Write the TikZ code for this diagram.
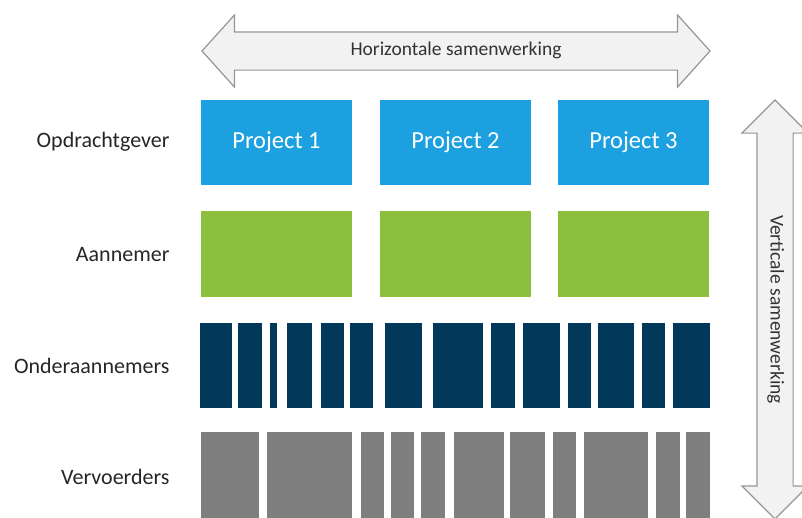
\documentclass[tikz,border=0pt]{standalone}
\usepackage{fontspec}
\setmainfont{Carlito}
\usetikzlibrary{shapes.arrows}
\definecolor{ProjBlue}{RGB}{28,160,224}
\definecolor{MainGreen}{RGB}{141,191,62}
\definecolor{SubNavy}{RGB}{2,56,90}
\definecolor{CarrierGrey}{RGB}{127,127,127}
\definecolor{ArrowFill}{RGB}{242,242,242}
\definecolor{ArrowLine}{RGB}{150,150,150}

\begin{document}
\begin{tikzpicture}[x=1pt,y=-1pt]
	\tikzstyle{project} = [rectangle, minimum width=151pt, minimum height=85pt, inner sep=0pt, fill=ProjBlue, text=white, font=\fontsize{24.5}{28}\selectfont]
	\tikzstyle{contractor} = [rectangle, minimum width=151pt, minimum height=86pt, inner sep=0pt, fill=MainGreen]
	\tikzstyle{sub} = [rectangle, anchor=north west, minimum height=85pt, inner sep=0pt, fill=SubNavy]
	\tikzstyle{carrier} = [rectangle, anchor=north west, minimum height=90pt, inner sep=0pt, fill=CarrierGrey]
	\tikzstyle{role} = [anchor=east, text=black!85, font=\fontsize{22}{26}\selectfont]
	\tikzstyle{coop} = [double arrow, draw=ArrowLine, line width=1.2pt, fill=ArrowFill, text=black!80, font=\fontsize{19.5}{23}\selectfont, text height=13pt, text depth=4pt, inner xsep=0pt, inner ysep=10pt, double arrow head extend=17pt]

	\useasboundingbox (0,0) rectangle (802,517);
	\clip (0,0) rectangle (802,517);

	\node (horizontal) [coop, minimum height=508pt, double arrow tip angle=96] at (456,51) {Horizontale samenwerking};
	\node (vertical) [coop, rotate=-90, minimum height=419pt, inner ysep=9pt, double arrow head extend=15pt, double arrow tip angle=90] at (775,309.5) {Verticale samenwerking};

	\node (client) [role] at (173,142) {Opdrachtgever};
	\node (contractor) [role] at (173,255) {Aannemer};
	\node (subcontractors) [role] at (173,366) {Onderaannemers};
	\node (carriers) [role] at (173,477) {Vervoerders};

	\node (proj1) [project] at (276.5,142.5) {Project 1};
	\node (proj2) [project, right of=proj1, node distance=179pt] {Project 2};
	\node (proj3) [project, right of=proj2, node distance=178pt] {Project 3};
	\node (main1) [contractor] at (276.5,254) {};
	\node (main2) [contractor, right of=main1, node distance=179pt] {};
	\node (main3) [contractor, right of=main2, node distance=178pt] {};

	\foreach \a/\b [count=\i] in {200/231.6, 237.7/261.7, 269.3/276.5, 286.4/311.5, 320.7/344, 349.9/373.2, 384.5/421.9, 432.6/483, 490.4/514.9, 522.6/560.1, 568/591, 597.9/633.9, 641.8/664.8, 672.6/710}
		\node (sub\i) [sub, minimum width=\b-\a] at (\a,323) {};
	\foreach \a/\b [count=\i] in {201/258.3, 266.9/352, 360.5/383.5, 390.4/413.3, 421.2/445.2, 453.8/504.2, 509.7/544.7, 552.3/575.6, 584.2/647.6, 656.2/680.2, 686/709.3}
		\node (carrier\i) [carrier, minimum width=\b-\a] at (\a,432) {};
\end{tikzpicture}
\end{document}
